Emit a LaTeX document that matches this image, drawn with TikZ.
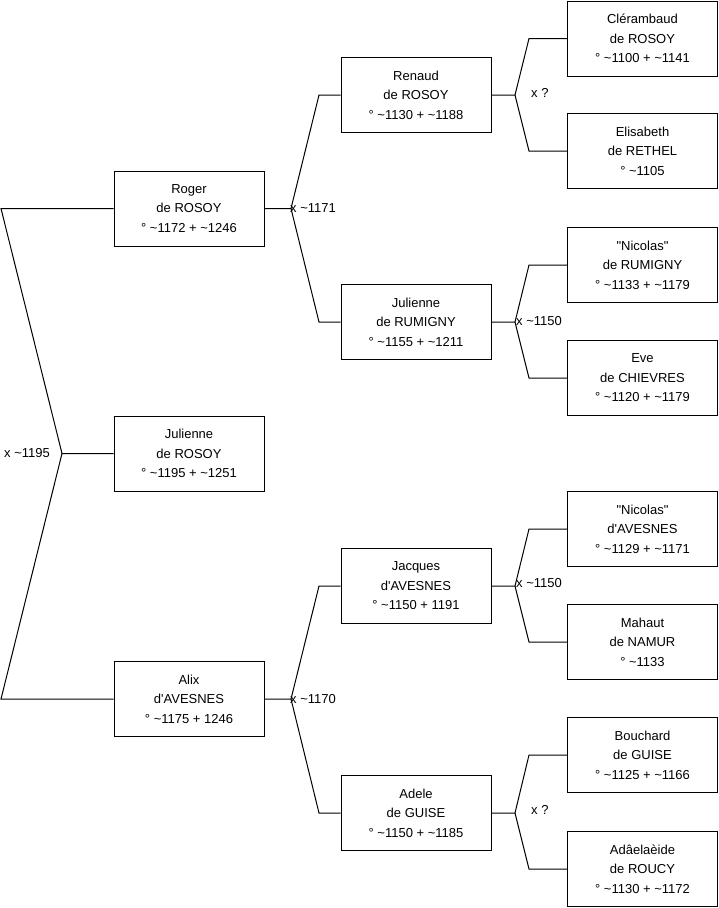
\documentclass[tikz,border=0pt]{standalone}
\usepackage{fontspec}
\newfontfamily\lsans{Liberation Sans}
\newcommand\tld{\char"7E\relax}
\begin{document}
\begin{tikzpicture}[x=1pt,y=-1pt,
  person/.style={draw=black, line width=1pt, minimum width=150pt, minimum height=75pt,
    align=center, inner sep=0pt, font=\lsans\fontsize{13}{19.5}\selectfont},
  link/.style={draw=black, line width=1pt},
  lbl/.style={anchor=west, inner sep=0pt, font=\lsans\fontsize{13}{15}\selectfont}]
\useasboundingbox (0,0) rectangle (719,908);
% level 0/1
\node[person] (julienne) at (189,453.5) {Julienne\\de ROSOY\\° \tld1195 + \tld1251};
\node[person] (roger) at (189,208.5) {Roger\\de ROSOY\\° \tld1172 + \tld1246};
\node[person] (alix) at (189,699) {Alix\\d'AVESNES\\° \tld1175 + 1246};
% level 2
\node[person] (renaud) at (416,95) {Renaud\\de ROSOY\\° \tld1130 + \tld1188};
\node[person] (julr) at (416,322) {Julienne\\de RUMIGNY\\° \tld1155 + \tld1211};
\node[person] (jacques) at (416,586) {Jacques\\d'AVESNES\\° \tld1150 + 1191};
\node[person] (adele) at (416,813) {Adele\\de GUISE\\° \tld1150 + \tld1185};
% level 3
\node[person] (clerambaud) at (642.5,38.5) {Clérambaud\\de ROSOY\\° \tld1100 + \tld1141};
\node[person] (elisabeth) at (642.5,151) {Elisabeth\\de RETHEL\\° \tld1105};
\node[person] (nicolasr) at (642.5,265) {"Nicolas"\\de RUMIGNY\\° \tld1133 + \tld1179};
\node[person] (eve) at (642.5,378) {Eve\\de CHIEVRES\\° \tld1120 + \tld1179};
\node[person] (nicolasa) at (642.5,529) {"Nicolas"\\d'AVESNES\\° \tld1129 + \tld1171};
\node[person] (mahaut) at (642.5,642) {Mahaut\\de NAMUR\\° \tld1133};
\node[person] (bouchard) at (642.5,755) {Bouchard\\de GUISE\\° \tld1125 + \tld1166};
\node[person] (adelaide) at (642.5,869) {Adâelaèide\\de ROUCY\\° \tld1130 + \tld1172};
% junctions
\coordinate (j0) at (62,453.5);
\coordinate (c0a) at (1,208.5);
\coordinate (c0b) at (1,699);
\coordinate (j1) at (291,208.5);
\coordinate (c1a) at (319,95);
\coordinate (c1b) at (319,322);
\coordinate (j2) at (291,699);
\coordinate (c2a) at (319,586);
\coordinate (c2b) at (319,813);
\coordinate (j3) at (515,95);
\coordinate (c3a) at (529,38.5);
\coordinate (c3b) at (529,151);
\coordinate (j4) at (515,322);
\coordinate (c4a) at (529,265);
\coordinate (c4b) at (529,378);
\coordinate (j5) at (515,586);
\coordinate (c5a) at (529,529);
\coordinate (c5b) at (529,642);
\coordinate (j6) at (515,813);
\coordinate (c6a) at (529,755);
\coordinate (c6b) at (529,869);
% connectors
\draw[link] (roger.west) -- (c0a) -- (j0) -- (julienne.west);
\draw[link] (j0) -- (c0b) -- (alix.west);
\draw[link] (roger.east) -- (j1) -- (c1a) -- (renaud.west);
\draw[link] (j1) -- (c1b) -- (julr.west);
\draw[link] (alix.east) -- (j2) -- (c2a) -- (jacques.west);
\draw[link] (j2) -- (c2b) -- (adele.west);
\draw[link] (renaud.east) -- (j3) -- (c3a) -- (clerambaud.west);
\draw[link] (j3) -- (c3b) -- (elisabeth.west);
\draw[link] (julr.east) -- (j4) -- (c4a) -- (nicolasr.west);
\draw[link] (j4) -- (c4b) -- (eve.west);
\draw[link] (jacques.east) -- (j5) -- (c5a) -- (nicolasa.west);
\draw[link] (j5) -- (c5b) -- (mahaut.west);
\draw[link] (adele.east) -- (j6) -- (c6a) -- (bouchard.west);
\draw[link] (j6) -- (c6b) -- (adelaide.west);
% labels
\node[lbl] (l0) at (4,453.5) {x \tld1195};
\node[lbl] (l1) at (290,208.5) {x \tld1171};
\node[lbl] (l2) at (290,699) {x \tld1170};
\node[lbl] (l3) at (531,93) {x ?};
\node[lbl] (l4) at (516,321) {x \tld1150};
\node[lbl] (l5) at (516,583) {x \tld1150};
\node[lbl] (l6) at (531,810) {x ?};
\end{tikzpicture}
\end{document}
